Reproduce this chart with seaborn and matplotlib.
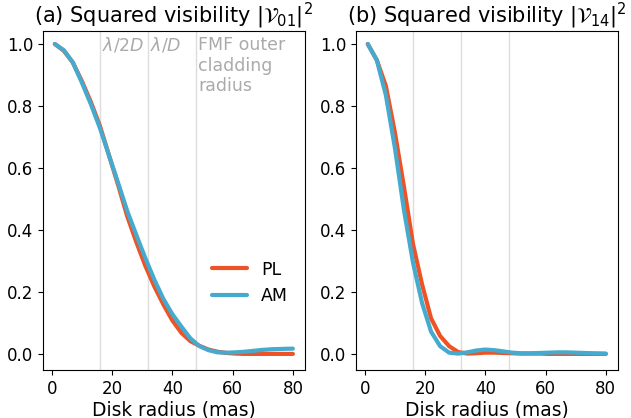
import numpy as np
import pandas as pd
import matplotlib
matplotlib.use("Agg")
import matplotlib.pyplot as plt
import matplotlib.transforms as mtransforms
import seaborn as sns

# ---- data ----
radius = [1, 4, 7, 10, 13, 16, 19, 22, 25, 28, 31, 34, 37, 40, 43, 46, 49,
          52, 55, 58, 61, 64, 67, 70, 73, 76, 80]

v01_pl = [1.000, 0.978, 0.940, 0.880, 0.812, 0.735, 0.640, 0.545, 0.445, 0.362,
          0.285, 0.218, 0.160, 0.108, 0.068, 0.041, 0.026, 0.014, 0.007, 0.003,
          0.001, 0.000, 0.000, 0.000, 0.000, 0.000, 0.000]
v01_am = [1.000, 0.980, 0.940, 0.875, 0.805, 0.728, 0.640, 0.552, 0.462, 0.385,
          0.310, 0.240, 0.178, 0.128, 0.088, 0.050, 0.025, 0.012, 0.005, 0.004,
          0.005, 0.007, 0.010, 0.013, 0.015, 0.016, 0.017]

v14_pl = [1.000, 0.948, 0.865, 0.715, 0.540, 0.355, 0.225, 0.115, 0.058, 0.025,
          0.006, 0.001, 0.002, 0.004, 0.004, 0.003, 0.002, 0.001, 0.001, 0.001,
          0.000, 0.000, 0.000, 0.000, 0.000, 0.000, 0.000]
v14_am = [1.000, 0.948, 0.835, 0.665, 0.465, 0.295, 0.165, 0.072, 0.025, 0.004,
          0.001, 0.005, 0.011, 0.014, 0.012, 0.008, 0.004, 0.002, 0.002, 0.003,
          0.004, 0.005, 0.005, 0.004, 0.003, 0.002, 0.001]

methods = ["PL", "AM"]
colors = {"PL": "#EE5326", "AM": "#45AACD"}
titles = [r"(a) Squared visibility $|\mathcal{V}_{01}|^2$",
          r"(b) Squared visibility $|\mathcal{V}_{14}|^2$"]
marker_radii = [16, 32, 48]
marker_labels = [r"$\lambda/2D$", r"$\lambda/D$", "FMF outer\ncladding\nradius"]
xlabel = "Disk radius (mas)"

# ---- build tables ----
def make_df(pl, am):
    return pd.DataFrame({
        "radius": radius * 2,
        "value": list(pl) + list(am),
        "method": ["PL"] * len(radius) + ["AM"] * len(radius),
    })

dfs = [make_df(v01_pl, v01_am), make_df(v14_pl, v14_am)]

sns.set_theme(style="ticks", context="notebook")
plt.rcParams.update({
    "font.family": ["DejaVu Sans"],
    "text.color": "black",
    "axes.labelcolor": "black",
    "xtick.color": "black",
    "ytick.color": "black",
    "axes.edgecolor": "black",
    "axes.linewidth": 0.8,
    "xtick.major.size": 3.5,
    "ytick.major.size": 3.5,
    "xtick.major.width": 0.8,
    "ytick.major.width": 0.8,
    "xtick.major.pad": 3.5,
    "ytick.major.pad": 3.5,
})

fig, axes = plt.subplots(1, 2, figsize=(6.31, 4.18), dpi=100)
fig.subplots_adjust(left=0.068, right=0.979, bottom=0.1148, top=0.9266, wspace=0.195)

for i, (ax, df) in enumerate(zip(axes, dfs)):
    for xr in marker_radii:
        ax.axvline(xr, color="#dddddd", lw=1.0, zorder=0)
    sns.lineplot(data=df, x="radius", y="value", hue="method", hue_order=methods,
                 palette=colors, lw=3, ax=ax, legend=(i == 0))
    ax.margins(x=0.05)
    ax.set_ylim(-0.052, 1.043)
    ax.set_xticks([0, 20, 40, 60, 80])
    ax.set_yticks([0.0, 0.2, 0.4, 0.6, 0.8, 1.0])
    ax.tick_params(labelsize=12)
    ax.set_xlabel(xlabel, fontsize=13.4, labelpad=2)
    ax.set_ylabel("")
    ax.set_title(titles[i], fontsize=15, pad=1.5)

ax0 = axes[0]
trans = mtransforms.blended_transform_factory(ax0.transData, ax0.transAxes)
for xr, lab in zip(marker_radii, marker_labels):
    ax0.text(xr + 0.5, 0.985, lab, transform=trans, ha="left", va="top",
             color="#aaaaaa", fontsize=12.5, linespacing=1.2)

leg = ax0.legend(loc="lower right", bbox_to_anchor=(0.995, 0.145), frameon=False,
                 fontsize=12.5, handlelength=2.0, title=None)
for h in leg.get_lines():
    h.set_linewidth(3)

fig.savefig("out.png", dpi=100)
